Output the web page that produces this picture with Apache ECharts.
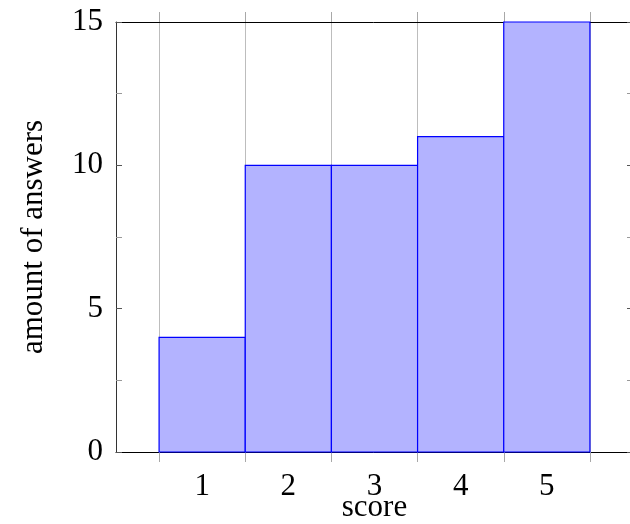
<!DOCTYPE html>
<html>
<head>
<meta charset="utf-8">
<script src="https://cdn.jsdelivr.net/npm/echarts@6/dist/echarts.min.js"></script>
<style>html,body{margin:0;padding:0;background:#fff;}#c{width:630px;height:524px;}</style>
</head>
<body>
<div id="c"></div>
<script>
const scores = [1, 2, 3, 4, 5];
const answers = [4, 10, 10, 11, 15];
const yTicks = [0, 5, 10, 15];
const xLabels = ['1', '2', '3', '4', '5'];
const halfSteps = ['0','0.5','1','1.5','2','2.5','3','3.5','4','4.5','5','5.5','6'];

const FONT = '"Liberation Serif", "DejaVu Serif", serif';
const FS = 31;
const chart = echarts.init(document.getElementById('c'));
const oddOnly = function (index) { return index % 2 === 1; };

chart.setOption({
  animation: false,
  backgroundColor: '#ffffff',
  grid: { left: 116, right: -3, top: 22, bottom: 72, containLabel: false, outerBoundsMode: 'none' },
  xAxis: [
    {
      type: 'value', min: 0, max: 6, interval: 1, position: 'bottom',
      name: 'score', nameLocation: 'middle', nameGap: 40, nameMoveOverlap: false,
      nameTextStyle: { fontFamily: FONT, fontSize: FS, color: '#000' },
      axisLine: { show: true, lineStyle: { color: '#000', width: 1 } },
      axisTick: { show: false },
      splitLine: { show: false },
      axisLabel: {
        fontFamily: FONT, fontSize: FS, color: '#000', margin: 19,
        formatter: function (v) { return xLabels.indexOf(String(v)) >= 0 ? String(v) : ''; }
      }
    },
    {
      type: 'category', data: halfSteps, boundaryGap: false, position: 'bottom',
      axisLine: { show: false },
      axisLabel: { show: false },
      axisTick: { show: true, inside: false, length: 10, interval: oddOnly, lineStyle: { color: '#a8a8a8', width: 1 } },
      splitLine: { show: true, interval: oddOnly, lineStyle: { color: '#bdbdbd', width: 1 } }
    },
    {
      type: 'category', data: halfSteps, boundaryGap: false, position: 'top',
      axisLine: { show: true, lineStyle: { color: '#000', width: 1 } },
      axisLabel: { show: false },
      axisTick: { show: true, inside: false, length: 10, interval: oddOnly, lineStyle: { color: '#a8a8a8', width: 1 } },
      splitLine: { show: false }
    }
  ],
  yAxis: [
    {
      type: 'value', min: 0, max: 15, interval: 5, position: 'left',
      name: 'amount of answers', nameLocation: 'middle', nameGap: 67, nameRotate: 90, nameMoveOverlap: false,
      nameTextStyle: { fontFamily: FONT, fontSize: FS, color: '#000' },
      axisLine: { show: true, lineStyle: { color: '#333', width: 1 } },
      axisTick: { show: true, inside: true, length: 6, lineStyle: { color: '#555' } },
      minorTick: { show: true, splitNumber: 2, length: 6, lineStyle: { color: '#999' } },
      splitLine: { show: false },
      axisLabel: {
        fontFamily: FONT, fontSize: FS, color: '#000', margin: 13,
        formatter: function (v) { return yTicks.indexOf(v) >= 0 ? String(v) : ''; }
      }
    },
    {
      type: 'value', min: 0, max: 15, interval: 5, position: 'right',
      axisLine: { show: true, lineStyle: { color: '#333', width: 1 } },
      axisTick: { show: true, inside: true, length: 6, lineStyle: { color: '#555' } },
      minorTick: { show: true, splitNumber: 2, length: 6, lineStyle: { color: '#999' } },
      splitLine: { show: false },
      axisLabel: { show: false }
    }
  ],
  series: [
    {
      type: 'custom',
      xAxisIndex: 0, yAxisIndex: 0,
      data: scores.map(function (s, i) { return [s, answers[i]]; }),
      encode: { x: 0, y: 1 },
      renderItem: function (params, api) {
        const x = api.value(0), y = api.value(1);
        const p0 = api.coord([x - 0.5, 0]);
        const p1 = api.coord([x + 0.5, y]);
        return {
          type: 'rect',
          shape: { x: p0[0], y: p1[1], width: p1[0] - p0[0], height: p0[1] - p1[1] },
          style: { fill: '#b3b3ff', stroke: '#0000ff', lineWidth: 1.2 }
        };
      },
      z: 5
    }
  ]
});
</script>
</body>
</html>
